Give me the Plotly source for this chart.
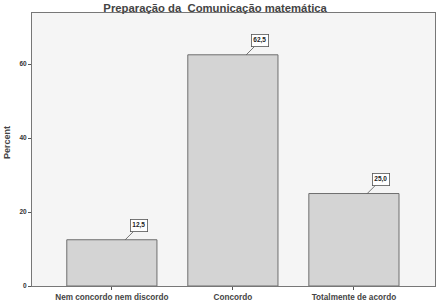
import plotly.graph_objects as go

categories = ["Nem concordo nem discordo", "Concordo", "Totalmente de acordo"]
percent = [12.5, 62.5, 25.0]
labels = ["12,5", "62,5", "25,0"]
y_ticks = [0, 20, 40, 60]

fig = go.Figure()
fig.add_trace(go.Bar(
    x=list(range(len(categories))), y=percent, width=0.745,
    marker=dict(color="#d4d4d4", line=dict(color="#6e6e6e", width=1)),
    hoverinfo="skip",
))

for i, (v, t) in enumerate(zip(percent, labels)):
    fig.add_annotation(
        x=i + 0.11, y=v, text="<b>" + t + "</b>",
        showarrow=True, arrowhead=0, arrowwidth=0.8, arrowcolor="#555",
        ax=14, ay=-14, bgcolor="white", bordercolor="#555", borderwidth=0.8,
        borderpad=1.5, font=dict(size=6.5, color="#222", family="Liberation Sans"),
    )

fig.add_annotation(
    text="<b>Percent</b>", xref="paper", yref="paper", x=-32/403, y=(286-143)/273,
    xanchor="left", yanchor="middle", textangle=-90, showarrow=False,
    font=dict(size=9, color="#444", family="Liberation Sans"), xshift=0,
)

fig.update_layout(
    width=439, height=308,
    margin=dict(l=32, r=4, t=13, b=22),
    paper_bgcolor="white", plot_bgcolor="#f5f5f5",
    showlegend=False,
    title=dict(text="<b>Preparação da  Comunicação matemática</b>",
               x=0.49, xanchor="center", y=0.988, yanchor="top",
               font=dict(size=11.3, color="#444", family="Liberation Sans")),
    font=dict(family="Liberation Sans", color="#333"),
)
fig.update_xaxes(
    range=[-0.66, 2.67], tickmode="array", tickvals=list(range(len(categories))),
    ticktext=["<b>" + c + "</b>" for c in categories],
    tickfont=dict(size=8.2, color="#444"), ticks="outside", ticklen=3, tickcolor="#555",
    showline=True, linecolor="#777", linewidth=1, mirror=True, showgrid=False, zeroline=False,
)
fig.update_yaxes(
    range=[0, 73.8], tickmode="array", tickvals=y_ticks,
    ticktext=["<b>%d</b>" % v for v in y_ticks],
    tickfont=dict(size=6.5, color="#333"), ticks="outside", ticklen=3, tickcolor="#555",
    showline=True, linecolor="#777", linewidth=1, mirror=True, showgrid=False, zeroline=False,
)

fig.write_html("out.html")
